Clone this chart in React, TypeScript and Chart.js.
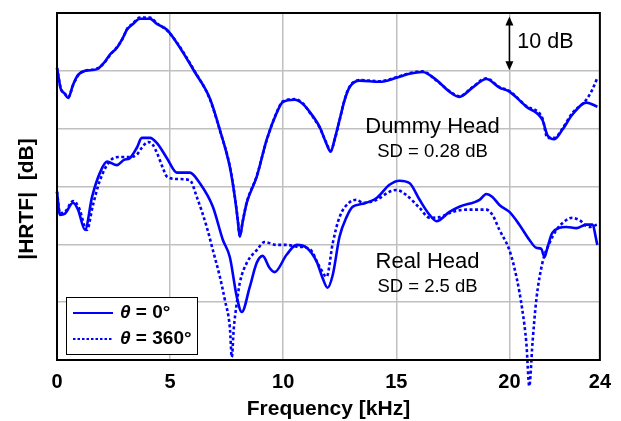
import { useEffect, useRef } from "react";
import { Chart, registerables } from "chart.js";

Chart.register(...registerables);

// ---- Data (frequency in kHz, magnitude in dB on a relative 0..60 scale) ----
const dummyFreq0 = [0.0, 0.18, 0.31, 0.49, 0.71, 0.93, 1.24, 1.77, 2.12, 2.34, 2.65, 2.91, 3.09, 3.36, 3.66, 4.11, 4.42, 4.86, 5.3, 6.09, 6.75, 7.2, 7.64, 7.86, 7.99, 8.08, 8.21, 8.39, 8.83, 9.27, 9.71, 9.98, 10.51, 10.86, 11.17, 11.61, 11.88, 12.1, 12.27, 12.49, 12.72, 12.94, 13.38, 14.26, 15.01, 15.58, 16.16, 16.78, 17.35, 17.79, 18.37, 18.98, 19.56, 20.0, 20.75, 21.46, 21.68, 21.99, 22.34, 22.78, 23.4, 23.89];
const dummyDb0 = [50.5, 46.7, 46.2, 45.3, 47.6, 49.3, 50.0, 50.3, 51.6, 52.8, 54.0, 55.7, 57.1, 58.1, 59.0, 59.0, 58.1, 57.1, 54.8, 49.8, 45.3, 39.8, 33.4, 28.2, 24.2, 21.3, 23.9, 27.2, 31.7, 38.1, 42.7, 44.6, 45.0, 44.3, 42.9, 40.3, 37.7, 36.0, 38.1, 41.5, 45.0, 47.2, 48.3, 48.1, 48.8, 49.5, 49.8, 48.4, 46.4, 45.5, 47.1, 48.6, 47.1, 46.4, 43.8, 41.5, 38.9, 38.2, 39.8, 42.4, 44.5, 43.8];

const dummyFreq360 = [0.0, 0.18, 0.31, 0.49, 0.71, 0.93, 1.24, 1.77, 2.12, 2.34, 2.65, 2.91, 3.09, 3.36, 3.66, 4.11, 4.42, 4.86, 5.3, 6.09, 6.75, 7.2, 7.64, 7.86, 7.99, 8.08, 8.21, 8.39, 8.83, 9.27, 9.71, 9.98, 10.51, 10.86, 11.17, 11.61, 11.88, 12.1, 12.27, 12.49, 12.72, 12.94, 13.38, 14.26, 15.01, 15.58, 16.16, 16.78, 17.35, 17.79, 18.37, 18.98, 19.56, 20.0, 20.75, 21.46, 21.68, 21.99, 22.34, 22.78, 23.4, 23.66, 23.89];
const dummyDb360 = [50.5, 46.8, 46.3, 45.4, 47.5, 49.2, 50.0, 50.4, 51.5, 52.7, 54.1, 55.6, 57.2, 58.2, 59.2, 59.2, 58.2, 57.0, 54.9, 49.9, 45.2, 39.7, 33.5, 28.3, 24.4, 21.5, 24.0, 27.3, 31.8, 38.0, 42.8, 44.7, 45.1, 44.4, 42.8, 40.2, 37.8, 36.2, 38.0, 41.4, 45.1, 47.3, 48.4, 48.2, 48.9, 49.6, 49.9, 48.3, 46.5, 45.6, 47.2, 48.7, 47.2, 46.5, 43.9, 41.8, 38.4, 38.4, 40.0, 42.7, 45.0, 46.7, 48.8];

const realFreq0 = [0.0, 0.13, 0.35, 0.71, 0.93, 1.24, 1.55, 1.9, 2.21, 2.65, 2.96, 3.22, 3.53, 3.75, 4.11, 4.42, 4.86, 5.3, 5.87, 6.31, 6.89, 7.33, 7.64, 7.95, 8.17, 8.52, 8.83, 9.09, 9.4, 9.62, 10.15, 10.6, 11.04, 11.48, 11.74, 11.96, 12.19, 12.49, 12.8, 13.07, 13.51, 14.13, 14.7, 15.14, 15.58, 16.03, 16.47, 16.78, 17.35, 17.79, 18.68, 18.98, 19.25, 19.56, 20.0, 20.44, 20.88, 21.19, 21.41, 21.55, 21.68, 21.9, 22.52, 22.96, 23.4, 23.66, 23.89];
const realDb0 = [29.1, 25.1, 25.3, 27.2, 26.0, 22.5, 28.2, 32.4, 34.3, 33.7, 34.6, 34.9, 36.7, 38.4, 38.4, 37.5, 34.9, 32.4, 32.4, 30.6, 26.5, 20.8, 17.8, 10.9, 8.3, 12.6, 16.8, 18.0, 15.9, 15.2, 18.2, 19.9, 19.4, 17.0, 14.2, 12.5, 14.7, 21.3, 24.7, 26.5, 27.0, 28.0, 30.3, 31.0, 30.6, 27.7, 25.1, 24.0, 25.6, 26.5, 27.7, 28.7, 28.2, 26.8, 25.6, 23.4, 20.8, 19.4, 19.2, 17.8, 19.4, 22.0, 23.0, 22.8, 23.4, 23.4, 19.9];

const realFreq360 = [0.0, 0.13, 0.35, 0.71, 0.97, 1.32, 1.59, 1.9, 2.34, 2.78, 3.22, 3.53, 3.75, 4.02, 4.24, 4.42, 4.68, 4.86, 5.3, 5.87, 6.18, 6.62, 6.89, 7.2, 7.42, 7.64, 7.73, 7.81, 7.95, 8.08, 8.39, 8.83, 9.18, 9.71, 10.15, 10.6, 11.17, 11.61, 11.92, 12.19, 12.49, 12.94, 13.25, 13.51, 14.13, 14.7, 15.01, 15.45, 16.03, 16.47, 16.91, 17.48, 18.1, 18.98, 19.25, 19.56, 20.0, 20.31, 20.57, 20.75, 20.88, 21.02, 21.19, 21.46, 21.77, 22.08, 22.52, 22.78, 23.09, 23.53, 23.89];
const realDb360 = [29.1, 25.4, 25.6, 27.5, 26.3, 22.5, 26.8, 31.1, 34.4, 35.1, 35.1, 35.5, 36.7, 37.7, 37.2, 35.8, 33.2, 31.7, 31.3, 31.1, 28.2, 23.0, 19.0, 14.4, 10.4, 5.7, 0.5, 5.2, 9.9, 13.3, 16.8, 19.0, 20.4, 19.9, 19.9, 19.6, 19.2, 16.1, 14.4, 20.2, 24.7, 27.3, 27.7, 27.2, 27.7, 29.1, 29.4, 28.5, 26.3, 24.6, 24.7, 25.6, 26.0, 26.0, 25.1, 22.5, 19.0, 14.4, 8.7, 2.9, -4.5, 2.9, 10.4, 16.8, 20.2, 22.5, 24.2, 24.6, 24.2, 23.0, 23.4];

const xTicks = [0, 5, 10, 15, 20, 24];
const yTicks = [0, 10, 20, 30, 40, 50, 60];

const xTitle = "Frequency [kHz]";
const yTitle = "|HRTF|  [dB]";
const legendLabels = ["θ = 0°", "θ = 360°"];
const dummyLabel = "Dummy Head";
const dummySd = "SD = 0.28 dB";
const realLabel = "Real Head";
const realSd = "SD = 2.5 dB";
const scaleLabel = "10 dB";

const FONT = '"Liberation Sans", Arial, Helvetica, sans-serif';
const BLUE = "#0000ff";
const DOTS = [3, 2.5];

const toPoints = (xs: number[], ys: number[]) => xs.map((x, i) => ({ x, y: ys[i] }));

const overlayPlugin = {
  id: "overlay",
  afterDatasetsDraw(chart: any) {
    const { ctx, chartArea } = chart;
    const xs = chart.scales.x;
    const ys = chart.scales.y;
    ctx.save();

    // frame
    ctx.strokeStyle = "#000";
    ctx.lineWidth = 2;
    ctx.strokeRect(chartArea.left, chartArea.top, chartArea.right - chartArea.left, chartArea.bottom - chartArea.top);

    // y axis title
    ctx.save();
    ctx.translate(27.5, 199);
    ctx.rotate(-Math.PI / 2);
    ctx.fillStyle = "#000";
    ctx.font = `bold 21px ${FONT}`;
    ctx.textAlign = "center";
    ctx.textBaseline = "middle";
    ctx.fillText(yTitle, 0, 0);
    ctx.restore();

    // text annotations
    ctx.fillStyle = "#000";
    ctx.textAlign = "center";
    ctx.textBaseline = "middle";
    ctx.font = `22px ${FONT}`;
    ctx.fillText(dummyLabel, xs.getPixelForValue(16.6), ys.getPixelForValue(40.3));
    ctx.fillText(realLabel, xs.getPixelForValue(16.38), ys.getPixelForValue(17.0));
    ctx.font = `18.5px ${FONT}`;
    ctx.fillText(dummySd, xs.getPixelForValue(16.6), ys.getPixelForValue(36.0));
    ctx.fillText(realSd, xs.getPixelForValue(16.38), ys.getPixelForValue(12.6));

    // 10 dB arrow
    const ax = xs.getPixelForValue(20);
    const aTop = ys.getPixelForValue(59.4);
    const aBot = ys.getPixelForValue(50.1);
    ctx.strokeStyle = "#000";
    ctx.lineWidth = 1.5;
    ctx.beginPath();
    ctx.moveTo(ax, aTop + 6);
    ctx.lineTo(ax, aBot - 6);
    ctx.stroke();
    ctx.beginPath();
    ctx.moveTo(ax, aTop);
    ctx.lineTo(ax - 4, aTop + 9);
    ctx.lineTo(ax + 4, aTop + 9);
    ctx.closePath();
    ctx.fill();
    ctx.beginPath();
    ctx.moveTo(ax, aBot);
    ctx.lineTo(ax - 4, aBot - 9);
    ctx.lineTo(ax + 4, aBot - 9);
    ctx.closePath();
    ctx.fill();
    ctx.textAlign = "left";
    ctx.font = `21.5px ${FONT}`;
    ctx.fillText(scaleLabel, xs.getPixelForValue(20.35), ys.getPixelForValue(55.0));

    // legend box
    const lx = chartArea.left + 9;
    const ly = chartArea.bottom - 63;
    const lw = 131;
    const lh = 57;
    ctx.fillStyle = "#fff";
    ctx.fillRect(lx, ly, lw, lh);
    ctx.strokeStyle = "#000";
    ctx.lineWidth = 1;
    ctx.strokeRect(lx + 0.5, ly + 0.5, lw, lh);
    const rows = [ly + 16, ly + 42];
    rows.forEach((ry, i) => {
      ctx.strokeStyle = BLUE;
      ctx.lineWidth = 2;
      ctx.setLineDash(i === 0 ? [] : [2.5, 2]);
      ctx.beginPath();
      ctx.moveTo(lx + 7, ry);
      ctx.lineTo(lx + 47, ry);
      ctx.stroke();
      ctx.setLineDash([]);
      const label = legendLabels[i];
      ctx.fillStyle = "#000";
      ctx.textAlign = "left";
      ctx.textBaseline = "middle";
      ctx.font = `italic bold 19px ${FONT}`;
      const theta = label.charAt(0);
      ctx.fillText(theta, lx + 54, ry);
      const tw = ctx.measureText(theta).width;
      ctx.font = `bold 19px ${FONT}`;
      ctx.fillText(label.slice(1), lx + 54 + tw, ry);
    });

    ctx.restore();
  },
};

export default function App() {
  const canvasRef = useRef<HTMLCanvasElement | null>(null);

  useEffect(() => {
    document.body.style.margin = "0";
    const canvas = canvasRef.current;
    if (!canvas) return;
    const lineBase = {
      pointRadius: 0,
      borderColor: BLUE,
      backgroundColor: BLUE,
      borderWidth: 2.6,
      cubicInterpolationMode: "monotone" as const,
      fill: false,
      clip: false as const,
    };
    const chart = new Chart(canvas, {
      type: "line",
      data: {
        datasets: [
          { ...lineBase, label: "Dummy θ = 0°", data: toPoints(dummyFreq0, dummyDb0) },
          { ...lineBase, label: "Dummy θ = 360°", data: toPoints(dummyFreq360, dummyDb360), borderDash: DOTS },
          { ...lineBase, label: "Real θ = 0°", data: toPoints(realFreq0, realDb0) },
          { ...lineBase, label: "Real θ = 360°", data: toPoints(realFreq360, realDb360), borderDash: DOTS },
        ],
      },
      options: {
        animation: false,
        responsive: true,
        maintainAspectRatio: false,
        layout: { padding: { top: 13, right: 20, left: 0, bottom: 0 } },
        plugins: {
          legend: { display: false },
          tooltip: { enabled: false },
        },
        scales: {
          x: {
            type: "linear",
            min: 0,
            max: 24,
            afterBuildTicks: (scale: any) => {
              scale.ticks = xTicks.map((v) => ({ value: v }));
            },
            afterFit: (scale: any) => {
              scale.height = 61;
            },
            ticks: {
              autoSkip: false,
              maxRotation: 0,
              color: "#000",
              padding: 10,
              font: { family: FONT, size: 20, weight: "bold" },
            },
            grid: { color: "#c0c0c0", lineWidth: 1.5, drawTicks: false },
            border: { display: false },
            title: {
              display: true,
              text: xTitle,
              color: "#000",
              font: { family: FONT, size: 21, weight: "bold", lineHeight: 1 },
              padding: { top: 0, bottom: 1 },
            },
          },
          y: {
            type: "linear",
            min: 0,
            max: 60,
            afterBuildTicks: (scale: any) => {
              scale.ticks = yTicks.map((v) => ({ value: v }));
            },
            afterFit: (scale: any) => {
              scale.width = 57;
            },
            ticks: { display: false },
            grid: { color: "#c0c0c0", lineWidth: 1.5, drawTicks: false },
            border: { display: false },
          },
        },
      },
      plugins: [overlayPlugin],
    });
    return () => chart.destroy();
  }, []);

  return (
    <div style={{ width: 621, height: 421, position: "relative" }}>
      <canvas ref={canvasRef} />
    </div>
  );
}
